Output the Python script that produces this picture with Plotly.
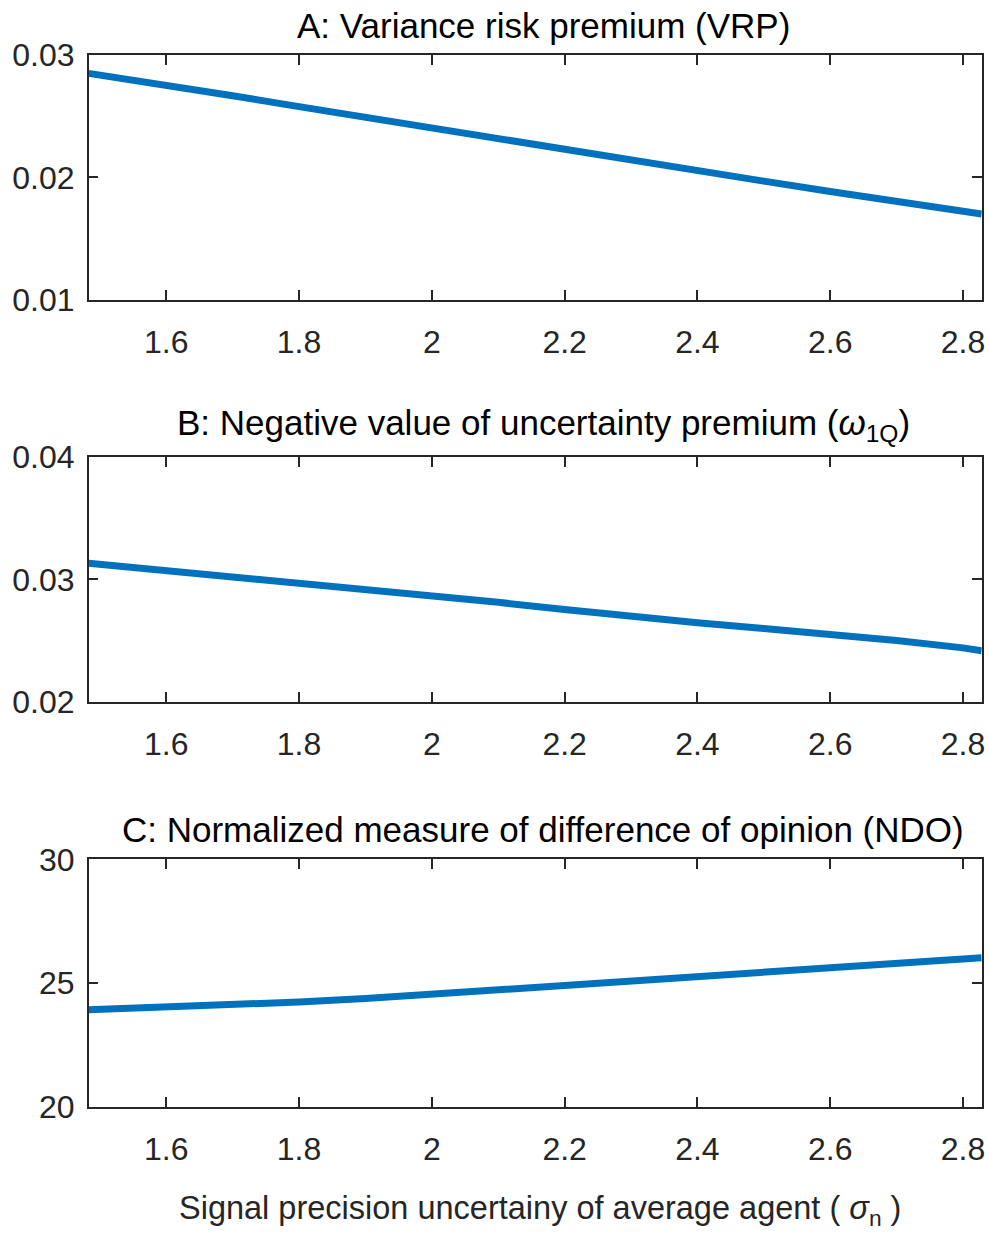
import plotly.graph_objects as go

# ---- data ----
x_sigma = [1.4832, 1.6, 1.7, 1.8, 1.9, 2.0, 2.1, 2.2, 2.3, 2.4, 2.5, 2.6, 2.7, 2.8, 2.8282]
vrp = [0.02850, 0.02757, 0.02667, 0.02578, 0.02489, 0.02401, 0.02313, 0.02226, 0.02139,
       0.02054, 0.01969, 0.01884, 0.01802, 0.01722, 0.01700]
omega_1q = [0.03131, 0.03072, 0.03023, 0.02973, 0.02923, 0.02870, 0.02812, 0.02754, 0.02697,
            0.02646, 0.02598, 0.02551, 0.02500, 0.02440, 0.02416]
ndo = [23.92, 24.01, 24.11, 24.23, 24.37, 24.54, 24.72, 24.91, 25.10, 25.28, 25.46, 25.63,
       25.80, 25.97, 26.02]

x_ticks = [1.6, 1.8, 2.0, 2.2, 2.4, 2.6, 2.8]
x_ticklabels = ["1.6", "1.8", "2", "2.2", "2.4", "2.6", "2.8"]
ticks_a = [0.01, 0.02, 0.03]
ticks_b = [0.02, 0.03, 0.04]
ticks_c = [20, 25, 30]
labels_a = ["0.01", "0.02", "0.03"]
labels_b = ["0.02", "0.03", "0.04"]
labels_c = ["20", "25", "30"]
titles = ["A: Variance risk premium (VRP)",
          "B: Negative value of uncertainty premium (<i>ω</i><sub>1Q</sub>)",
          "C: Normalized measure of difference of opinion (NDO)"]
x_label = "Signal precision uncertainy of average agent ( <i>σ</i><sub>n</sub> )"

W, H = 989, 1243
FONT = "Liberation Sans, Arial, sans-serif"
AX = "#262626"
LINE = "#0072BD"

xdom = [88.7 / W, 981.7 / W]
# pixel tops/bottoms of the three panels
panels = [(55.0, 299.7), (457.0, 701.7), (859.3, 1106.7)]
ydoms = [[1 - b / H, 1 - t / H] for t, b in panels]

series = [vrp, omega_1q, ndo]
yticks = [ticks_a, ticks_b, ticks_c]
ylabels = [labels_a, labels_b, labels_c]

fig = go.Figure()
layout = dict(width=W, height=H, autosize=False, margin=dict(l=0, r=0, t=0, b=0, pad=0),
              paper_bgcolor="white", plot_bgcolor="white", showlegend=False,
              font=dict(family=FONT, color=AX, size=34))
annotations = []
for i in range(3):
    sfx = "" if i == 0 else str(i + 1)
    fig.add_trace(go.Scatter(x=x_sigma, y=series[i], mode="lines",
                             line=dict(color=LINE, width=7),
                             xaxis="x" + sfx, yaxis="y" + sfx, cliponaxis=True))
    layout["xaxis" + sfx] = dict(domain=xdom, anchor="y" + sfx, range=[x_sigma[0], x_sigma[-1]],
                                 tickvals=x_ticks, ticktext=x_ticklabels, automargin=False,
                                 ticks="inside", ticklen=10, tickwidth=1.5, tickcolor=AX,
                                 showline=True, linecolor=AX, linewidth=1.5, mirror="ticks",
                                 showgrid=False, zeroline=False,
                                 tickfont=dict(family=FONT, size=32, color=AX),
                                 ticklabelstandoff=13)
    layout["yaxis" + sfx] = dict(domain=ydoms[i], anchor="x" + sfx,
                                 range=[yticks[i][0], yticks[i][-1]], automargin=False,
                                 tickvals=yticks[i], ticktext=ylabels[i],
                                 ticks="inside", ticklen=10, tickwidth=1.5, tickcolor=AX,
                                 showline=True, linecolor=AX, linewidth=1.5, mirror="ticks",
                                 showgrid=False, zeroline=False,
                                 tickfont=dict(family=FONT, size=32, color=AX),
                                 ticklabelstandoff=6)
    annotations.append(dict(text=titles[i], xref="paper", yref="paper",
                            x=(xdom[0] + xdom[1]) / 2 + 8 / W, y=ydoms[i][1] + 8 / H,
                            xanchor="center", yanchor="bottom", showarrow=False,
                            font=dict(family=FONT, size=35, color="#000000")))

annotations.append(dict(text=x_label, xref="paper", yref="paper",
                        x=(xdom[0] + xdom[1]) / 2 + 5 / W, y=1 - 1210 / H,
                        xanchor="center", yanchor="middle", showarrow=False,
                        font=dict(family=FONT, size=32.5, color=AX)))
layout["annotations"] = annotations
fig.update_layout(**layout)

fig.write_html("out.html", config={"responsive": False, "displayModeBar": False},
               post_script="document.body.style.margin='0';")
